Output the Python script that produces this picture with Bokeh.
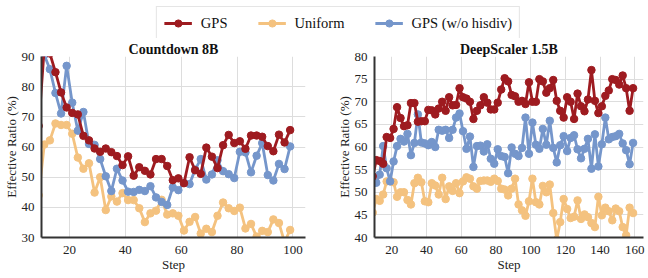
from bokeh.plotting import figure
from bokeh.layouts import column, row
from bokeh.models import Range1d, Legend, LegendItem, ColumnDataSource, FixedTicker
from bokeh.embed import file_html
from bokeh.resources import INLINE

FONT = "Liberation Serif"

# ---------------- data ----------------
series_names = ["GPS", "Uniform", "GPS (w/o hisdiv)"]
series_colors = ["#9E1B20", "#F4C27F", "#7596CB"]

# Countdown 8B
cd_steps = list(range(9, 100, 2))
cd_gps = [67.0, 93.0, 91.0, 84.8, 78.1, 73.1, 71.3, 70.8, 63.7, 62.2,
          59.5, 58.4, 59.5, 58.3, 57.0, 54.0, 56.9, 50.5, 53.3, 52.1,
          50.9, 56.0, 56.0, 53.7, 49.0, 49.6, 48.0, 56.6, 52.3, 51.1,
          59.8, 56.8, 53.0, 60.6, 64.0, 61.3, 61.9, 59.4, 63.8, 63.8,
          63.4, 60.3, 58.6, 64.1, 61.5, 65.6]
cd_uniform = [44.0, 60.8, 62.2, 67.8, 67.3, 67.3, 64.4, 56.5, 52.8, 54.6,
              44.9, 50.0, 39.1, 43.6, 41.9, 44.7, 42.4, 42.4, 39.7, 35.1,
              38.0, 38.9, 42.5, 37.6, 38.0, 37.2, 32.3, 35.2, 36.8, 31.3,
              32.9, 31.8, 37.2, 41.6, 39.7, 38.8, 39.9, 33.0, 34.5, 30.3,
              32.2, 31.8, 36.0, 34.8, 28.5, 32.5]
cd_nohis = [93.0, 90.5, 85.8, 77.9, 71.1, 86.9, 74.7, 65.4, 71.6, 61.0,
            60.7, 56.0, 50.3, 45.4, 52.8, 48.9, 45.2, 45.1, 45.8, 45.4,
            47.0, 43.3, 41.8, 40.8, 46.6, 45.7, 48.1, 47.7, 52.5, 56.0,
            49.2, 50.9, 55.6, 52.0, 51.0, 49.7, 58.4, 58.2, 51.6, 57.1,
            61.3, 50.7, 48.9, 54.4, 52.7, 60.2]

# DeepScaler 1.5B
ds_steps = list(range(9, 160, 2))
ds_gps = [53.5, 57.1, 56.9, 56.3, 62.2, 62.0, 64.0, 68.8, 66.4, 64.6,
          64.8, 69.7, 69.7, 65.6, 65.7, 65.7, 68.2, 68.1, 67.2, 68.5,
          70.0, 68.0, 71.0, 69.2, 69.3, 73.0, 71.0, 70.7, 70.0, 66.2,
          68.0, 69.2, 71.0, 69.8, 68.3, 68.3, 69.8, 72.7, 75.2, 74.5,
          71.5, 71.2, 70.0, 70.2, 69.5, 74.3, 70.0, 70.0, 75.0, 74.5,
          72.0, 73.0, 74.8, 70.2, 68.0, 66.5, 71.0, 70.0, 66.2, 71.8,
          69.0, 67.9, 70.5, 77.0, 70.2, 67.5, 69.0, 71.3, 72.5, 75.0,
          74.8, 73.8, 75.8, 73.0, 68.0, 73.0]
ds_uniform = [45.5, 48.5, 48.1, 49.5, 52.4, 52.5, 52.2, 49.0, 50.0, 50.0,
              48.3, 47.3, 52.0, 53.2, 52.2, 48.0, 47.8, 52.0, 51.5, 49.5,
              53.2, 48.5, 51.3, 50.3, 52.0, 49.8, 52.4, 53.3, 53.0, 51.3,
              50.8, 52.5, 52.6, 52.6, 52.3, 53.0, 52.5, 50.8, 50.6, 49.3,
              50.8, 53.0, 47.3, 46.0, 44.8, 48.0, 53.0, 47.8, 47.3, 51.4,
              50.0, 51.7, 45.4, 39.5, 43.4, 48.5, 46.3, 44.3, 44.6, 48.2,
              44.1, 45.1, 44.5, 43.2, 42.3, 49.0, 44.9, 46.6, 45.8, 43.8,
              46.4, 45.8, 42.3, 40.5, 46.6, 45.4]
ds_nohis = [52.0, 52.1, 53.9, 60.2, 55.3, 52.4, 56.8, 60.2, 61.8, 61.2,
            62.9, 58.2, 60.9, 67.2, 61.0, 60.8, 60.4, 61.1, 60.0, 63.8,
            63.6, 63.8, 62.0, 63.8, 66.5, 67.4, 63.5, 59.6, 62.3, 55.6,
            60.2, 60.3, 59.0, 60.6, 57.4, 56.3, 59.5, 58.0, 57.8, 54.2,
            59.9, 58.5, 58.0, 59.8, 66.5, 58.5, 65.4, 60.5, 59.6, 64.0,
            60.5, 65.8, 59.8, 56.6, 60.4, 62.4, 59.1, 62.0, 62.6, 59.5,
            57.5, 59.6, 61.8, 55.2, 62.8, 55.7, 60.6, 66.5, 61.7, 62.2,
            62.4, 62.9, 60.8, 59.3, 56.2, 60.9]

cd_xticks = [20, 40, 60, 80, 100]
cd_yticks = [30, 40, 50, 60, 70, 80, 90]
ds_xticks = [20, 40, 60, 80, 100, 120, 140, 160]
ds_yticks = [40, 45, 50, 55, 60, 65, 70, 75, 80]

PLOT_H = 236


def make_plot(title, src, xr, yr, xticks, yticks, width, bl, br):
    p = figure(width=width, height=PLOT_H, x_range=Range1d(*xr), y_range=Range1d(*yr),
               output_backend="svg", toolbar_location=None,
               min_border_left=bl, min_border_right=br,
               min_border_top=18, min_border_bottom=0)
    p.title.text = title
    p.title.align = "center"
    p.title.text_font = FONT
    p.title.text_font_size = "14px"
    p.title.text_font_style = "bold"
    p.title.text_color = "#111111"
    p.title.standoff = 0
    p.outline_line_color = None

    p.xaxis.ticker = FixedTicker(ticks=xticks)
    p.yaxis.ticker = FixedTicker(ticks=yticks)
    for ax in (p.xaxis[0], p.yaxis[0]):
        ax.axis_line_color = "#333333"
        ax.axis_line_width = 2
        ax.major_tick_line_color = None
        ax.minor_tick_line_color = None
        ax.major_label_text_font = FONT
        ax.major_label_text_font_size = "13px"
        ax.major_label_text_color = "#222222"
        ax.axis_label_text_font = FONT
        ax.axis_label_text_font_size = "13px"
        ax.axis_label_text_font_style = "normal"
        ax.axis_label_text_color = "#222222"
        ax.major_label_standoff = 2
        ax.axis_label_standoff = 0
    p.yaxis.major_label_standoff = 1
    p.xaxis.axis_label = "Step"
    p.yaxis.axis_label = "Effective Ratio (%)"
    p.xgrid.ticker = FixedTicker(ticks=xticks)
    p.ygrid.ticker = FixedTicker(ticks=yticks)
    p.grid.grid_line_color = "#dddddd"
    p.grid.grid_line_width = 1

    for col, color in (("uni", series_colors[1]), ("nohis", series_colors[2]),
                       ("gps", series_colors[0])):
        p.line("step", col, source=src, color=color, line_width=2.8)
        p.scatter("step", col, source=src, color=color, size=7.5)
    return p


cd_src = ColumnDataSource(data=dict(step=cd_steps, gps=cd_gps, uni=cd_uniform, nohis=cd_nohis))
ds_src = ColumnDataSource(data=dict(step=ds_steps, gps=ds_gps, uni=ds_uniform, nohis=ds_nohis))

p1 = make_plot("Countdown 8B", cd_src, (10, 104.5), (30, 90), cd_xticks, cd_yticks, 333, 38, 28)
p2 = make_plot("DeepScaler 1.5B", ds_src, (10, 165), (40, 80), ds_xticks, ds_yticks, 313, 41, 3)

# legend strip (its renderers lie outside its visible range; only the legend shows)
lf = figure(width=646, height=38, x_range=Range1d(0, 1), y_range=Range1d(0, 1),
            output_backend="svg", toolbar_location=None,
            x_axis_location=None, y_axis_location=None,
            min_border_left=30, min_border_right=0, min_border_top=0, min_border_bottom=0)
lf.grid.visible = False
lf.outline_line_color = None
items = []
for name, col, color in zip(series_names, ["gps", "uni", "nohis"], series_colors):
    r1 = lf.line("step", col, source=cd_src, color=color, line_width=3)
    r2 = lf.scatter("step", col, source=cd_src, color=color, size=7)
    items.append(LegendItem(label=name, renderers=[r1, r2]))
leg = Legend(items=items, orientation="horizontal", location="top_center",
             label_text_font=FONT, label_text_font_size="14.5px", label_text_color="#111111",
             glyph_width=28, glyph_height=18, label_height=18, label_standoff=9,
             spacing=30, padding=7, margin=6,
             border_line_color="#cccccc", border_line_width=1)
lf.add_layout(leg, "center")

layout = column(lf, row(p1, p2))
open("out.html", "w").write(file_html(layout, INLINE))
